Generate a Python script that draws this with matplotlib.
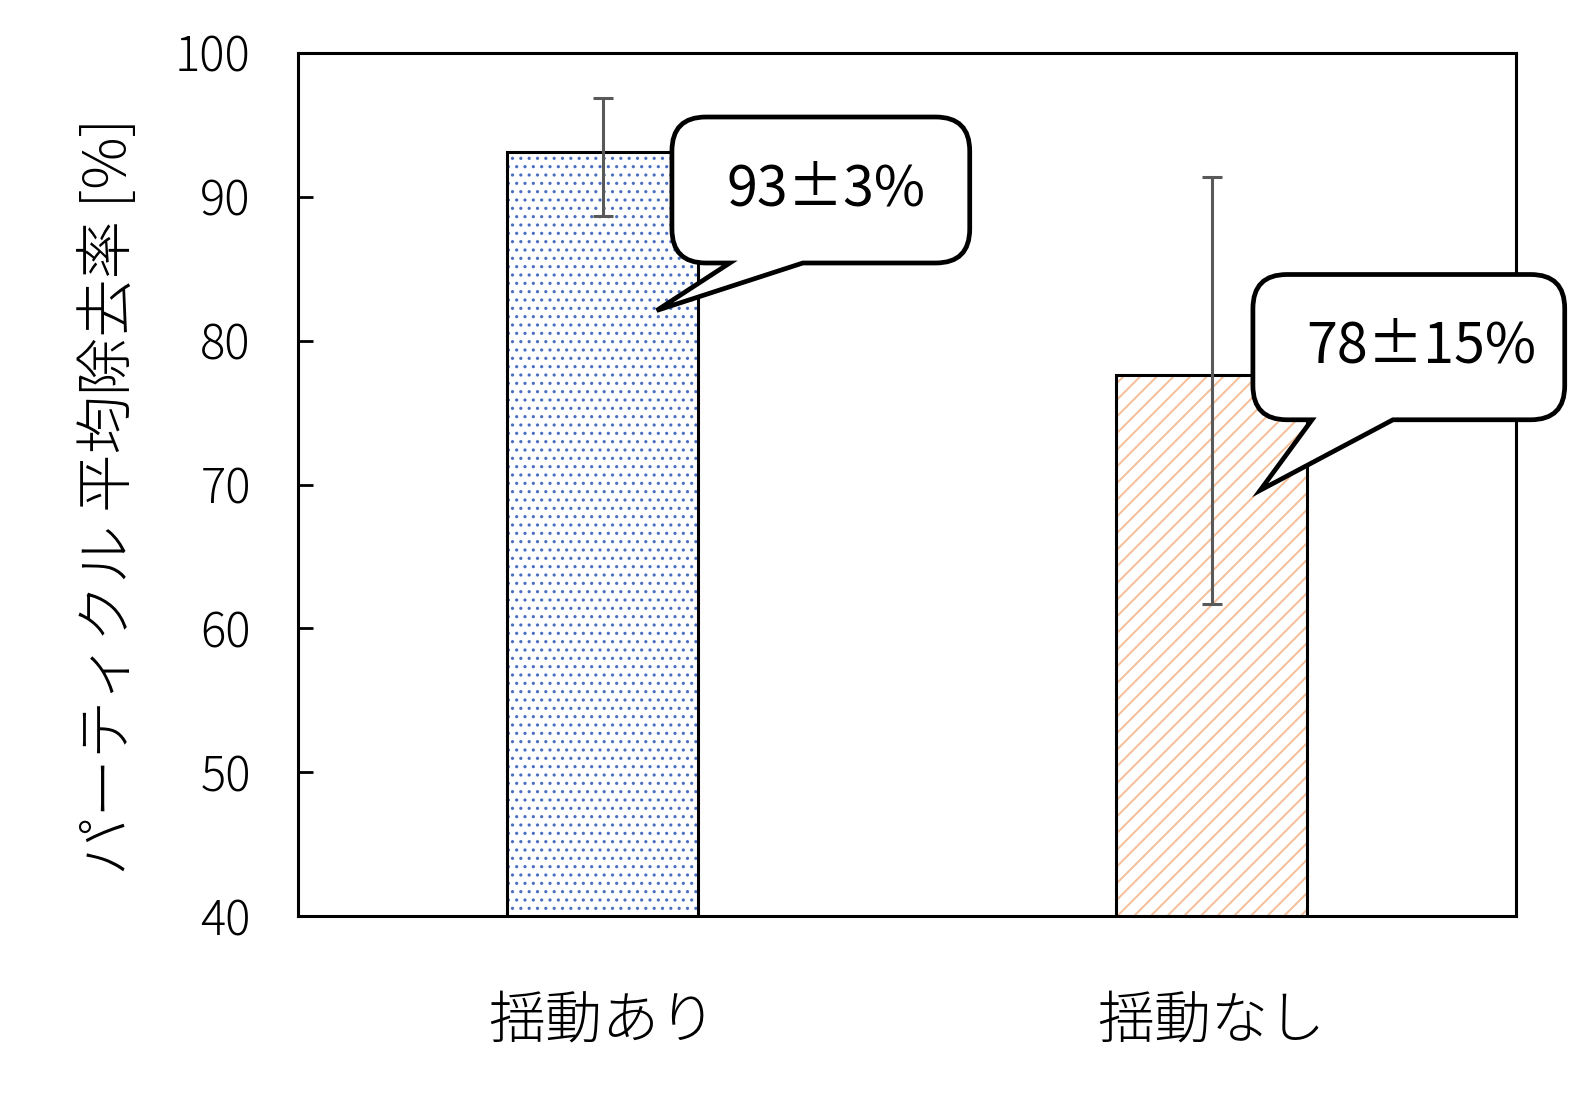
import matplotlib
matplotlib.use("Agg")
import matplotlib.pyplot as plt
import numpy as np
from matplotlib.path import Path
from matplotlib.patches import PathPatch
from matplotlib.transforms import IdentityTransform

plt.rcParams['font.family'] = ['Noto Sans CJK JP', 'DejaVu Sans']

# data
categories = ['揺動あり', '揺動なし']
removal = [93.1, 77.6]
err_low = [4.4, 15.9]
err_high = [3.8, 13.8]
labels = ['93±3%', '78±15%']
hatch_colors = ['#4A6FC0', '#F5BE96']
hatches = ['..', '//']
hatch_lw = [1.1, 1.4]

fig = plt.figure(figsize=(15.94, 11.01), dpi=100)
ax = fig.add_axes([298/1594, 1 - 916/1101, 1218/1594, 863/1101])

x = np.arange(len(categories))
w = 0.312
# hatched fill (one bar at a time so each gets its own hatch width), then black outline
for i in range(len(categories)):
    with plt.rc_context({'hatch.linewidth': hatch_lw[i]}):
        ax.bar(x[i], removal[i], w, color='white', edgecolor=hatch_colors[i],
               hatch=hatches[i], linewidth=0, zorder=2)
ax.bar(x, removal, w, fill=False, edgecolor='black', linewidth=2.2, zorder=3)
ax.errorbar(x, removal, yerr=[err_low, err_high], fmt='none', ecolor='#595959',
            elinewidth=2.2, capsize=7.5, capthick=2.2, zorder=4)

ax.set_xlim(-0.5, 1.5)
ax.set_ylim(40, 100)
ax.set_yticks(np.arange(40, 101, 10))
ax.set_xticks(x)
ax.set_xticklabels(categories, fontsize=41, fontweight='light')
ax.tick_params(axis='y', direction='in', length=11, width=2, labelsize=34, pad=34)
ax.tick_params(axis='x', length=0, pad=55)
for t in ax.get_yticklabels():
    t.set_fontweight('light')
for s in ax.spines.values():
    s.set_linewidth(2.2)

ax.set_ylabel('パーティクル 平均除去率 [%]', fontsize=42, fontweight='light')
ax.yaxis.set_label_coords(-0.13, 0.486)


def callout(ax, box, base, tip, text, r=34, tx=None):
    # box = (x0, x1, y0, y1) in data, base = (xa, xb) on bottom edge, tip = (x, y)
    T = ax.transData.transform
    (L, B) = T((box[0], box[2]))
    (R, Tp) = T((box[1], box[3]))
    ba = T((base[0], box[2]))[0]
    bb = T((base[1], box[2]))[0]
    tpx, tpy = T(tip)
    verts = [
        (L + r, Tp), (R - r, Tp), (R, Tp), (R, Tp - r),
        (R, B + r), (R, B), (R - r, B),
        (bb, B), (tpx, tpy), (ba, B),
        (L + r, B), (L, B), (L, B + r),
        (L, Tp - r), (L, Tp), (L + r, Tp), (L + r, Tp),
    ]
    codes = [Path.MOVETO, Path.LINETO, Path.CURVE3, Path.CURVE3,
             Path.LINETO, Path.CURVE3, Path.CURVE3,
             Path.LINETO, Path.LINETO, Path.LINETO,
             Path.LINETO, Path.CURVE3, Path.CURVE3,
             Path.LINETO, Path.CURVE3, Path.CURVE3, Path.CLOSEPOLY]
    p = PathPatch(Path(verts, codes), facecolor='white', edgecolor='black',
                  linewidth=3.4, transform=IdentityTransform(), clip_on=False,
                  zorder=6, joinstyle='miter')
    ax.add_patch(p)
    cx = (box[0] + box[1]) / 2 if tx is None else tx
    ax.text(cx, (box[2] + box[3]) / 2, text, fontsize=40, ha='center',
            va='center', zorder=7, clip_on=False)


callout(ax, (0.114, 0.603, 85.4, 95.55), (0.209, 0.329), (0.089, 82.1), labels[0],
        tx=0.367)
callout(ax, (1.068, 1.580, 74.5, 84.6), (1.165, 1.298), (1.080, 69.6), labels[1],
        tx=1.345)

fig.savefig('out.png', dpi=100)
